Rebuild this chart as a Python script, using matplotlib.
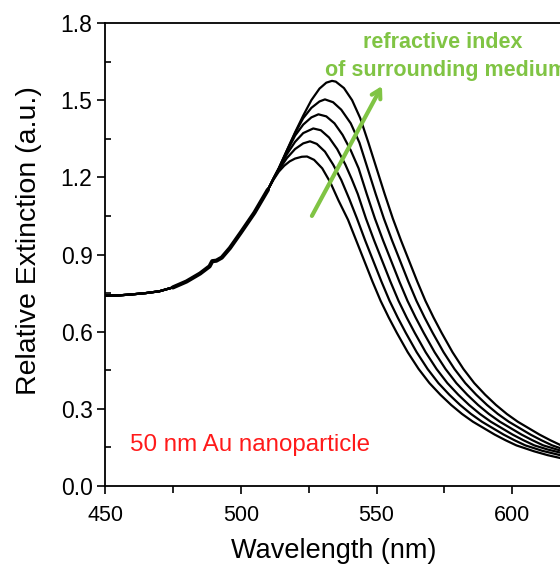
import matplotlib
matplotlib.use("Agg")
import matplotlib.pyplot as plt
from matplotlib.ticker import MultipleLocator

plt.rcParams['font.family'] = ['Liberation Sans', 'DejaVu Sans']

# ---- data ----
common_wl = [450, 455, 460, 465, 470, 475, 480, 485, 488.5, 489.5, 491, 493, 496, 500, 505, 510]
common_ext = [0.740, 0.741, 0.745, 0.750, 0.757, 0.772, 0.795, 0.826, 0.854, 0.874, 0.876, 0.888, 0.925, 0.985, 1.062, 1.152]

c0_wl = [512, 514, 516, 518, 520, 522.5, 524.4, 527, 530, 533, 536, 539.5, 542.5, 545.5, 548.5, 551.5, 554.5, 557.5,
         561.5, 565.5, 569.5, 573.5, 577.5, 581.5, 585.5, 589.5, 593.5, 597.5, 601.5, 608, 613, 618]
c0_ext = [1.190, 1.222, 1.245, 1.262, 1.273, 1.280, 1.281, 1.268, 1.235, 1.180, 1.110, 1.035, 0.955, 0.875, 0.795, 0.720, 0.655, 0.595,
          0.520, 0.455, 0.400, 0.355, 0.315, 0.280, 0.250, 0.225, 0.200, 0.178, 0.158, 0.135, 0.120, 0.108]

c1_wl = [512, 514, 517, 520, 523, 525.5, 528, 531, 534, 537, 540, 542.8, 545.8, 548.8, 551.8, 554.8, 557.8, 560.8,
         564.8, 568.8, 572.8, 576.8, 580.8, 584.8, 588.8, 592.8, 596.8, 600.8, 604.8, 611, 618]
c1_ext = [1.192, 1.228, 1.275, 1.310, 1.332, 1.340, 1.330, 1.300, 1.250, 1.190, 1.115, 1.040, 0.955, 0.875, 0.795, 0.720, 0.655, 0.595,
          0.520, 0.455, 0.400, 0.355, 0.315, 0.280, 0.250, 0.225, 0.200, 0.178, 0.158, 0.137, 0.119]

c2_wl = [512, 514, 517, 520, 523, 526.7, 529.5, 532.5, 535.5, 538.5, 540.8, 543.1, 546.1, 549.1, 552.1, 555.1, 558.1, 561.1,
         564.1, 568.1, 572.1, 576.1, 580.1, 584.1, 588.1, 592.1, 596.1, 600.1, 604.1, 608.1, 613, 618]
c2_ext = [1.193, 1.232, 1.290, 1.338, 1.372, 1.390, 1.383, 1.355, 1.310, 1.250, 1.195, 1.135, 1.040, 0.955, 0.875, 0.795, 0.720, 0.655,
          0.595, 0.520, 0.455, 0.400, 0.355, 0.315, 0.280, 0.250, 0.225, 0.200, 0.178, 0.158, 0.142, 0.129]

c3_wl = [512, 514, 517, 520, 523, 526, 528.6, 531.5, 534.5, 537.5, 540.5, 543.4, 546.4, 549.4, 552.4, 555.4, 558.4, 561.4,
         564.4, 567.4, 571.4, 575.4, 579.4, 583.4, 587.4, 591.4, 595.4, 599.4, 603.4, 607.4, 611.4, 618]
c3_ext = [1.194, 1.234, 1.300, 1.362, 1.405, 1.433, 1.445, 1.437, 1.410, 1.365, 1.305, 1.235, 1.135, 1.040, 0.955, 0.875, 0.795, 0.720,
          0.655, 0.595, 0.520, 0.455, 0.400, 0.355, 0.315, 0.280, 0.250, 0.225, 0.200, 0.178, 0.158, 0.137]

c4_wl = [512, 514, 517, 520, 523, 526, 529, 531, 534, 537, 540.5, 543.7, 546.7, 549.7, 552.7, 555.7, 558.7, 561.7, 564.7,
         567.7, 570.7, 574.7, 578.7, 582.7, 586.7, 590.7, 594.7, 598.7, 602.7, 606.7, 610.7, 614.7, 618]
c4_ext = [1.195, 1.235, 1.305, 1.372, 1.430, 1.470, 1.495, 1.503, 1.492, 1.463, 1.410, 1.335, 1.235, 1.135, 1.040, 0.955, 0.875, 0.795, 0.720,
          0.655, 0.595, 0.520, 0.455, 0.400, 0.355, 0.315, 0.280, 0.250, 0.225, 0.200, 0.178, 0.158, 0.146]

c5_wl = [512, 514, 517, 520, 523, 526, 529, 531.5, 533.6, 535, 538, 541, 544, 547, 550, 553, 556, 559, 562, 565, 568,
         571, 574, 578, 582, 586, 590, 594, 598, 602, 606, 610, 614, 618]
c5_ext = [1.195, 1.235, 1.305, 1.375, 1.440, 1.500, 1.545, 1.568, 1.575, 1.572, 1.547, 1.500, 1.430, 1.335, 1.235, 1.135, 1.040, 0.955,
          0.875, 0.795, 0.720, 0.655, 0.595, 0.520, 0.455, 0.400, 0.355, 0.315, 0.280, 0.250, 0.225, 0.200, 0.178, 0.158]

tails = [(c0_wl, c0_ext), (c1_wl, c1_ext), (c2_wl, c2_ext), (c3_wl, c3_ext), (c4_wl, c4_ext), (c5_wl, c5_ext)]

x_ticks = [450, 500, 550, 600]
y_ticks = [0.0, 0.3, 0.6, 0.9, 1.2, 1.5, 1.8]

green = '#80c444'

fig = plt.figure(figsize=(5.6, 5.65), dpi=100)
ax = fig.add_axes([0.1875, 0.1398, 0.8175, 0.8195])

for wl, ext in tails:
    ax.plot(common_wl + wl, common_ext + ext, color='black', lw=1.6, solid_joinstyle='round')
# the overlapping rising part of all six spectra looks heavier in the original
ax.plot(common_wl[5:], common_ext[5:], color='black', lw=3.0, solid_capstyle='round')

ax.set_xlim(450, 618.6)
ax.set_ylim(0, 1.8)
ax.set_xticks(x_ticks)
ax.set_yticks(y_ticks)
ax.set_yticklabels([f"{v:.1f}" for v in y_ticks])
ax.xaxis.set_minor_locator(MultipleLocator(25))
ax.yaxis.set_minor_locator(MultipleLocator(0.15))
ax.tick_params(axis='y', which='major', direction='out', length=6, width=1.2, labelsize=16.5, pad=3)
ax.tick_params(axis='x', which='major', direction='out', length=6, width=1.2, labelsize=15.5, pad=8)
ax.tick_params(axis='x', which='minor', direction='out', length=5, width=1.2)
ax.tick_params(axis='y', which='minor', direction='in', length=4, width=1.2)
for s in ax.spines.values():
    s.set_linewidth(1.3)
ax.spines['right'].set_visible(False)

ax.set_xlabel('Wavelength (nm)', fontsize=19.5, labelpad=8)
ax.set_ylabel('Relative Extinction (a.u.)', fontsize=20.5)
ax.yaxis.set_label_coords(-0.138, 0.531)

ax.text(459.2, 0.16, '50 nm Au nanoparticle', color='#ff1a1a', fontsize=17.4, ha='left', va='center')
ax.text(545, 1.726, 'refractive index', color=green, fontsize=15.5, fontweight='bold', ha='left', va='center')
ax.text(531, 1.617, 'of surrounding medium', color=green, fontsize=15.5, fontweight='bold', ha='left', va='center',
        clip_on=False)

ax.annotate('', xy=(552, 1.555), xytext=(526.2, 1.05),
            arrowprops=dict(arrowstyle='->,head_length=0.6,head_width=0.35', color=green, lw=3.0,
                            shrinkA=0, shrinkB=0))

fig.savefig('out.png', dpi=100)
